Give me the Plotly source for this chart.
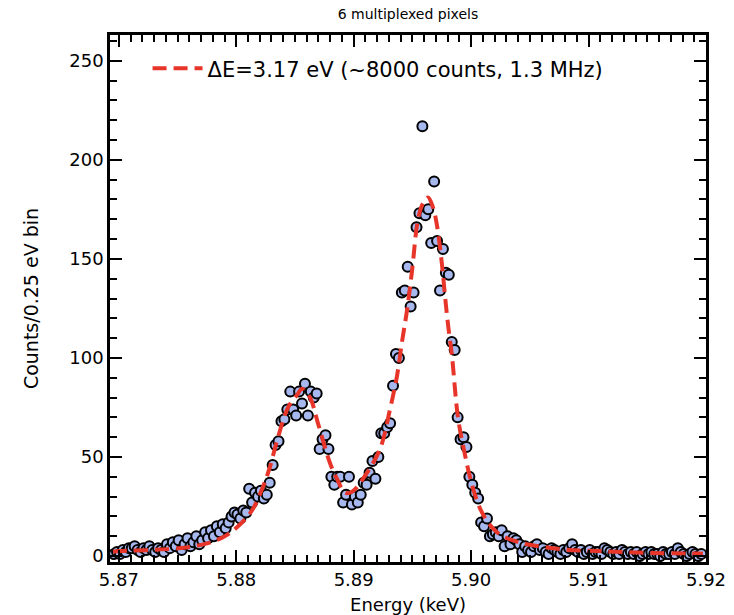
import plotly.graph_objects as go

# ---- data ----
bin_start = 5.86960          # keV, first bin centre
bin_width = 0.00025          # keV (0.25 eV bins)

counts = [
    1, 2, 1, 3, 2, 4,
    4, 5, 3, 2, 4, 3, 5,
    3, 2, 4, 3, 2, 6, 4,
    7, 5, 8, 3, 6, 9, 5,
    7, 10, 6, 8, 12, 9, 13,
    10, 15, 12, 16, 14, 17, 20, 22,
    21, 19, 23, 22, 34, 27, 32, 30, 33, 29, 31, 37, 46, 56, 58, 68,
    69, 74, 83, 74, 71, 83, 77, 87, 71, 83, 80, 82, 54, 59, 61, 54,
    40, 36, 40, 40, 27, 31, 40, 26, 30, 27, 31, 37, 36, 42, 48, 39,
    50, 62, 62, 65, 67, 86, 102, 100,
    133, 134, 146, 126, 133, 166, 173, 217, 172, 175, 158, 189, 159, 134,
    155, 143, 142, 108, 104, 70, 59, 60, 55, 40, 36, 32, 29, 17, 15, 19,
    10, 11, 12, 10, 13, 5, 10, 6, 9, 8, 6, 2, 5, 3,
    2, 5, 6, 3, 4, 2, 1, 4, 3, 2, 1, 3, 2, 4, 6, 3, 2, 3, 1, 2,
    3, 1, 2, 2, 1, 4, 3, 2, 1, 2, 1, 3, 2, 1, 2, 1, 2, 0, 1, 2,
    1, 2, 1, 1, 0, 2, 1, 1, 2, 1, 4, 2, 1, 0, 1, 2, 1, 0, 1,
]
energy = [round(bin_start + bin_width * i, 6) for i in range(len(counts))]

fit_energy = [
    5.86951, 5.87010, 5.87410, 5.87691, 5.87887, 5.88006, 5.88134, 5.88228,
    5.88287, 5.88356, 5.88441, 5.88526, 5.88560, 5.88628, 5.88696, 5.88798,
    5.88858, 5.88926, 5.88986, 5.89079, 5.89224, 5.89309, 5.89369, 5.89411,
    5.89454, 5.89497, 5.89548, 5.89590, 5.89633, 5.89675, 5.89709, 5.89752,
    5.89778, 5.89803, 5.89837, 5.89888, 5.89948, 5.90007, 5.90076, 5.90144,
    5.90220, 5.90306, 5.90391, 5.90476, 5.90757, 5.91097, 5.91498, 5.91974,
]
fit_counts = [
    2.2, 2.5, 3.5, 5.5, 9.5, 14.5, 23, 35,
    45, 60, 75, 82, 84.5, 80, 67, 47,
    39, 32, 32.5, 39, 54, 74, 91, 108,
    124, 144, 170, 178, 181, 176, 167, 147,
    131, 117, 101, 70, 51, 36, 24, 17,
    12, 9, 7.3, 6, 3.5, 2.5, 1.6, 1.3,
]

x_ticks = [5.87, 5.88, 5.89, 5.90, 5.91, 5.92]
x_tick_labels = ["5.87", "5.88", "5.89", "5.90", "5.91", "5.92"]
y_ticks = [0, 50, 100, 150, 200, 250]

FONT = "DejaVu Sans"

fig = go.Figure()
fig.add_trace(go.Scatter(
    x=energy, y=counts, mode="markers", showlegend=False, name="data",
    marker=dict(size=10, color="#a6b8ee", line=dict(color="black", width=2)),
))
fig.add_trace(go.Scatter(
    x=fit_energy, y=fit_counts, mode="lines", line_shape="spline",
    name="\u0394E=3.17 eV (~8000 counts, 1.3 MHz)",
    line=dict(color="#e8352a", width=4, dash="14px,7px"),
))

axis_common = dict(
    showline=True, linecolor="black", linewidth=2.5, mirror="allticks",
    ticks="inside", ticklen=12, tickwidth=2, tickcolor="black",
    showgrid=False, zeroline=False, automargin=False,
    tickfont=dict(family=FONT, size=18, color="black"),
)

fig.update_layout(
    width=734, height=615,
    margin=dict(l=110, r=28, t=35, b=53),
    paper_bgcolor="white", plot_bgcolor="white",
    font=dict(family=FONT, color="black"),
    title=dict(text="6 multiplexed pixels", x=408 / 734, xanchor="center",
               y=1 - 14 / 615, yanchor="middle", yref="container",
               font=dict(family=FONT, size=14, color="black")),
    xaxis=dict(
        range=[5.86925, 5.9200], tickvals=x_ticks, ticktext=x_tick_labels,
        minor=dict(dtick=0.001, tick0=5.87, ticks="inside", ticklen=7,
                   tickwidth=2, tickcolor="black"),
        title=dict(text="Energy (keV)", font=dict(family=FONT, size=18),
                   standoff=10),
        **axis_common,
    ),
    yaxis=dict(
        range=[-3, 263], tickvals=y_ticks,
        minor=dict(dtick=10, tick0=0, ticks="inside", ticklen=7,
                   tickwidth=2, tickcolor="black"),
        title=dict(text="Counts/0.25 eV bin", font=dict(family=FONT, size=19),
                   standoff=26),
        **axis_common,
    ),
    legend=dict(x=0.063, y=0.975, xanchor="left", yanchor="top",
                bgcolor="rgba(0,0,0,0)", font=dict(family=FONT, size=21),
                itemwidth=50),
)

fig.write_html("out.html")
